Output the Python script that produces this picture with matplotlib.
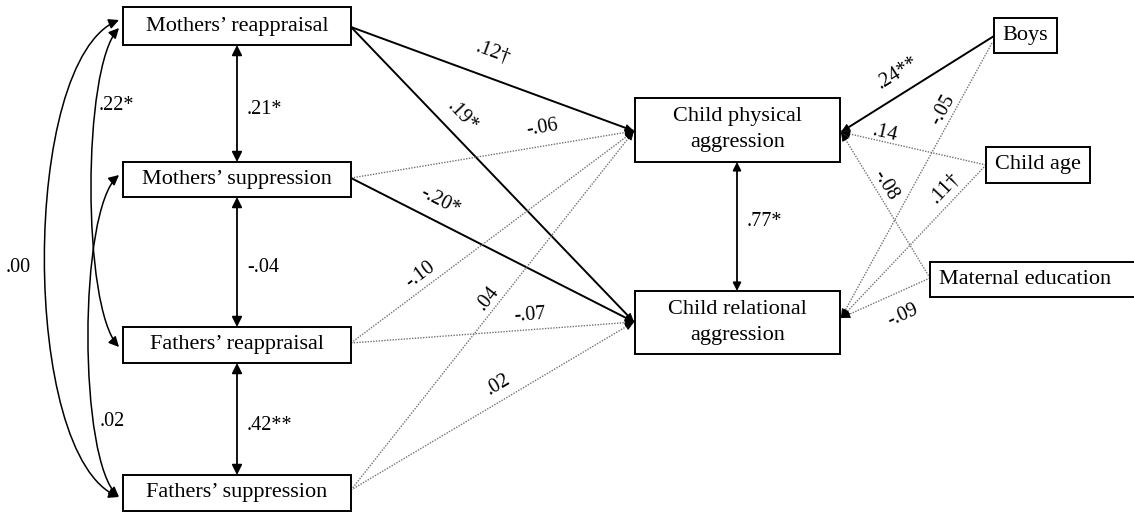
import numpy as np
import matplotlib.pyplot as plt
from matplotlib.patches import Rectangle, FancyArrowPatch
from matplotlib.path import Path

plt.rcParams['font.family'] = ['Liberation Serif', 'DejaVu Serif']

# node names
parents = ["Mothers\u2019 reappraisal", "Mothers\u2019 suppression",
           "Fathers\u2019 reappraisal", "Fathers\u2019 suppression"]
outcomes = ["Child physical\naggression", "Child relational\naggression"]
covariates = ["Boys", "Child age", "Maternal education"]

# parent -> outcome paths (physical, relational)
parent_coefs = [[".12\u2020", ".19*"],
                ["-.06", "-.20*"],
                ["-.10", "-.07"],
                [".04", ".02"]]
parent_sig = [[True, True], [False, True], [False, False], [False, False]]

# covariate -> outcome paths
cov_coefs = [[".24**", "-.05"], [".14", ".11\u2020"], ["-.08", "-.09"]]
cov_sig = [[True, False], [False, False], [False, False]]

# correlations between adjacent parent boxes and outcomes
adj_corr = [".21*", "-.04", ".42**"]
outcome_corr = ".77*"
# curved correlations: (from, to, label)
curve_corr = [(0, 3, ".00"), (0, 2, ".22*"), (1, 3, ".02")]

# ---- layout (pixels) ----
parent_box = [(123, 7, 228, 38), (123, 162, 228, 35), (123, 327, 228, 36), (123, 475, 228, 36)]
outcome_box = [(635, 98, 205, 64), (635, 291, 205, 63)]
cov_box = [(994, 18, 63, 35), (986, 147, 104, 36), (930, 262, 215, 35)]
cov_text_x = [1025, 1038, 1025]

parent_out = [(351, 27), (351, 178), (351, 343), (351, 490)]
outcome_in_left = [(634, 131), (634, 322)]
outcome_in_right = [(841, 132), (841, 318)]
cov_out = [[(994, 36), (992, 43)], [(986, 165), (986, 165)], [(930, 278), (930, 278)]]

parent_lab_pos = [[(493, 53), (462, 117)], [(542, 128), (440, 202)],
                  [(420, 275), (530, 315)], [(488, 298), (498, 385)]]
cov_lab_pos = [[(898, 73), (943, 110)], [(885, 133), (945, 188)], [(885, 185), (903, 315)]]
curve_lab_pos = [(18, 268), (116, 105), (112, 422)]
curve_ctrl = [(20, 40), (82, 40), (78, 35)]

fig = plt.figure(figsize=(11.34, 5.13), dpi=100)
ax = fig.add_axes([0, 0, 1, 1])
ax.set_xlim(0, 1134)
ax.set_ylim(513, 0)
ax.axis('off')

BOX_FS = 16
LAB_FS = 14.5


def draw_box(rect, text, tx=None):
    x, y, w, h = rect
    ax.add_patch(Rectangle((x, y), w, h, facecolor='white', edgecolor='black', lw=1.4, zorder=3))
    if tx is None:
        tx = x + w / 2
    ax.text(tx, y + h / 2, text, ha='center', va='center', fontsize=BOX_FS,
            linespacing=1.5, zorder=4)


def angle_of(p, q):
    a = -np.degrees(np.arctan2(q[1] - p[1], q[0] - p[0]))
    if a > 90:
        a -= 180
    if a < -90:
        a += 180
    return a


def draw_path(p, q, sig, label, lpos):
    if sig:
        ax.plot([p[0], q[0]], [p[1], q[1]], color='black', lw=1.4, zorder=2)
    else:
        ax.plot([p[0], q[0]], [p[1], q[1]], color='0.45', lw=1.0,
                linestyle=(0, (1, 1)), zorder=2)
    d = np.array(q, float) - np.array(p, float)
    d /= np.hypot(*d)
    start = np.array(q) - 7 * d
    ax.annotate('', xy=q, xytext=start,
                arrowprops=dict(arrowstyle='-|>,head_length=0.7,head_width=0.3',
                                color='black', lw=0.6, mutation_scale=8,
                                shrinkA=0, shrinkB=0), zorder=3)
    ax.text(lpos[0], lpos[1], label, ha='center', va='center', fontsize=LAB_FS,
            rotation=angle_of(p, q), rotation_mode='anchor', zorder=5)


for rect, name in zip(parent_box, parents):
    draw_box(rect, name)
for rect, name in zip(outcome_box, outcomes):
    draw_box(rect, name)
for rect, name, tx in zip(cov_box, covariates, cov_text_x):
    draw_box(rect, name, tx)

# parent -> outcomes
for i in range(len(parents)):
    for j in range(len(outcomes)):
        draw_path(parent_out[i], outcome_in_left[j], parent_sig[i][j],
                  parent_coefs[i][j], parent_lab_pos[i][j])

# covariates -> outcomes
for i in range(len(covariates)):
    for j in range(len(outcomes)):
        draw_path(cov_out[i][j], outcome_in_right[j], cov_sig[i][j],
                  cov_coefs[i][j], cov_lab_pos[i][j])

# adjacent correlations (vertical double arrows)
for k, lab in enumerate(adj_corr):
    top = parent_box[k][1] + parent_box[k][3]
    bot = parent_box[k + 1][1]
    ax.annotate('', xy=(237, bot), xytext=(237, top),
                arrowprops=dict(arrowstyle='<|-|>,head_length=0.6,head_width=0.3',
                                color='black', lw=1.3, mutation_scale=10,
                                shrinkA=0, shrinkB=0))
    ax.text(247, (top + bot) / 2 + 6, lab, ha='left', va='center', fontsize=LAB_FS)

top = outcome_box[0][1] + outcome_box[0][3]
bot = outcome_box[1][1]
ax.annotate('', xy=(737, bot), xytext=(737, top),
            arrowprops=dict(arrowstyle='<|-|>,head_length=0.6,head_width=0.3',
                            color='black', lw=1.3, mutation_scale=8,
                            shrinkA=0, shrinkB=0))
ax.text(747, 222, outcome_corr, ha='left', va='center', fontsize=LAB_FS)

# curved correlations on the left
ends = [(119, 20), (119, 175), (119, 347), (119, 497)]
for n, (a, b, lab) in enumerate(curve_corr):
    if a == 0:
        p0 = (119, 20) if b == 3 else (119, 28)
    else:
        p0 = (119, 175)
    p3 = ends[b]
    cx, dy = curve_ctrl[n]
    verts = [p0, (cx, p0[1] + dy), (cx, p3[1] - dy), p3]
    path = Path(verts, [Path.MOVETO, Path.CURVE4, Path.CURVE4, Path.CURVE4])
    arr = FancyArrowPatch(path=path, arrowstyle='<|-|>,head_length=0.6,head_width=0.3',
                          color='black', lw=1.1, mutation_scale=10, zorder=2)
    ax.add_patch(arr)
    ax.text(curve_lab_pos[n][0], curve_lab_pos[n][1], lab, ha='center', va='center',
            fontsize=LAB_FS)

fig.savefig('out.png', dpi=100)
